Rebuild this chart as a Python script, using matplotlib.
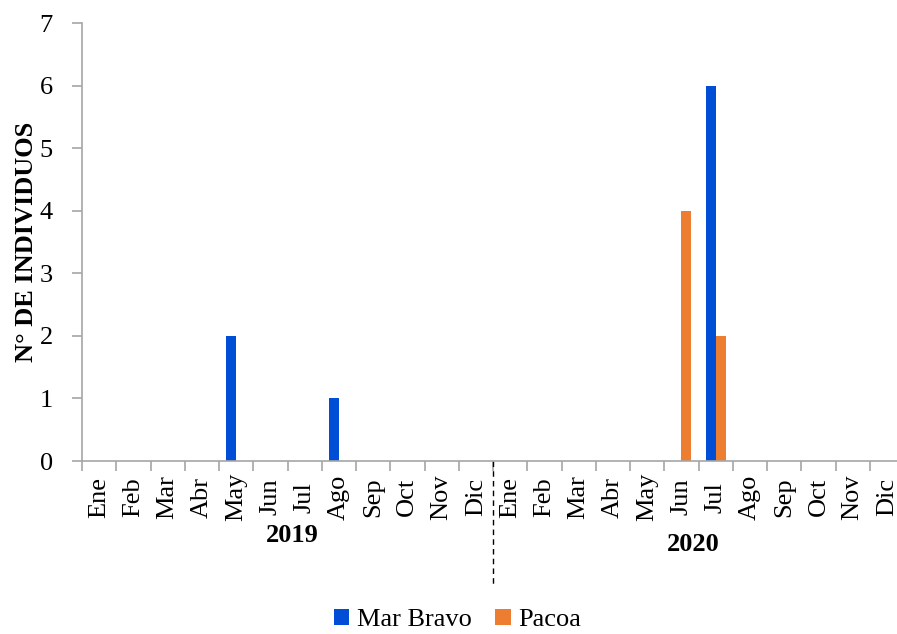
import numpy as np
import matplotlib.pyplot as plt

plt.rcParams['font.family'] = ['Liberation Serif', 'DejaVu Serif']

# Meses de muestreo (2019 y 2020)
meses = ['Ene', 'Feb', 'Mar', 'Abr', 'May', 'Jun', 'Jul', 'Ago', 'Sep', 'Oct', 'Nov', 'Dic']
etiquetas = meses + meses
anios = ['2019', '2020']

# Numero de individuos por localidad
mar_bravo = [0, 0, 0, 0, 2, 0, 0, 1, 0, 0, 0, 0,
             0, 0, 0, 0, 0, 0, 6, 0, 0, 0, 0, 0]
pacoa = [0, 0, 0, 0, 0, 0, 0, 0, 0, 0, 0, 0,
         0, 0, 0, 0, 0, 4, 2, 0, 0, 0, 0, 0]

azul = '#004ed6'
naranja = '#ed7d31'
gris = '#a6a6a6'
fs = 19

fig = plt.figure(figsize=(8.97, 6.34), dpi=100)
ax = fig.add_axes([82 / 897, (634 - 461) / 634, (904 - 82) / 897, (461 - 23) / 634])

x = np.arange(len(etiquetas))
w = 0.29
ax.bar(x - w / 2, mar_bravo, w, color=azul, label='Mar Bravo')
ax.bar(x + w / 2, pacoa, w, color=naranja, label='Pacoa')

ax.set_xlim(-0.5, len(etiquetas) - 0.5)
ax.set_ylim(0, 7)
ax.set_yticks(range(8))

# ticks en los limites de cada mes, etiquetas en el centro
ax.set_xticks(np.arange(-0.5, len(etiquetas)), labels=[])
ax.set_xticks(x, labels=etiquetas, minor=True, rotation=90, va='center')
ax.tick_params(axis='x', which='major', length=7, color=gris, width=1.2)
ax.tick_params(axis='x', which='minor', length=0, pad=26, labelsize=fs)
ax.tick_params(axis='y', length=7, color=gris, width=1.2, pad=14, labelsize=fs)

for s in ['top', 'right']:
    ax.spines[s].set_visible(False)
for s in ['left', 'bottom']:
    ax.spines[s].set_color(gris)
    ax.spines[s].set_linewidth(1.2)

ax.set_ylabel('N° DE INDIVIDUOS', fontsize=fs, fontweight='bold', labelpad=1)

# separador entre años
ax.plot([11.5, 11.5], [0, -0.283], transform=ax.get_xaxis_transform(),
        color='black', linestyle=(0, (4, 3)), linewidth=1, clip_on=False)

ax.text(5.63, -0.171, anios[0], transform=ax.get_xaxis_transform(),
        ha='center', va='center', fontsize=fs, fontweight='bold')
ax.text(17.34, -0.19, anios[1], transform=ax.get_xaxis_transform(),
        ha='center', va='center', fontsize=fs, fontweight='bold')

fig.legend(loc='center', bbox_to_anchor=(0.51, 0.022), ncol=2, frameon=False,
           fontsize=fs, handlelength=0.6, handleheight=0.6, handletextpad=0.3,
           columnspacing=0.85)

fig.savefig('out.png', dpi=100)
